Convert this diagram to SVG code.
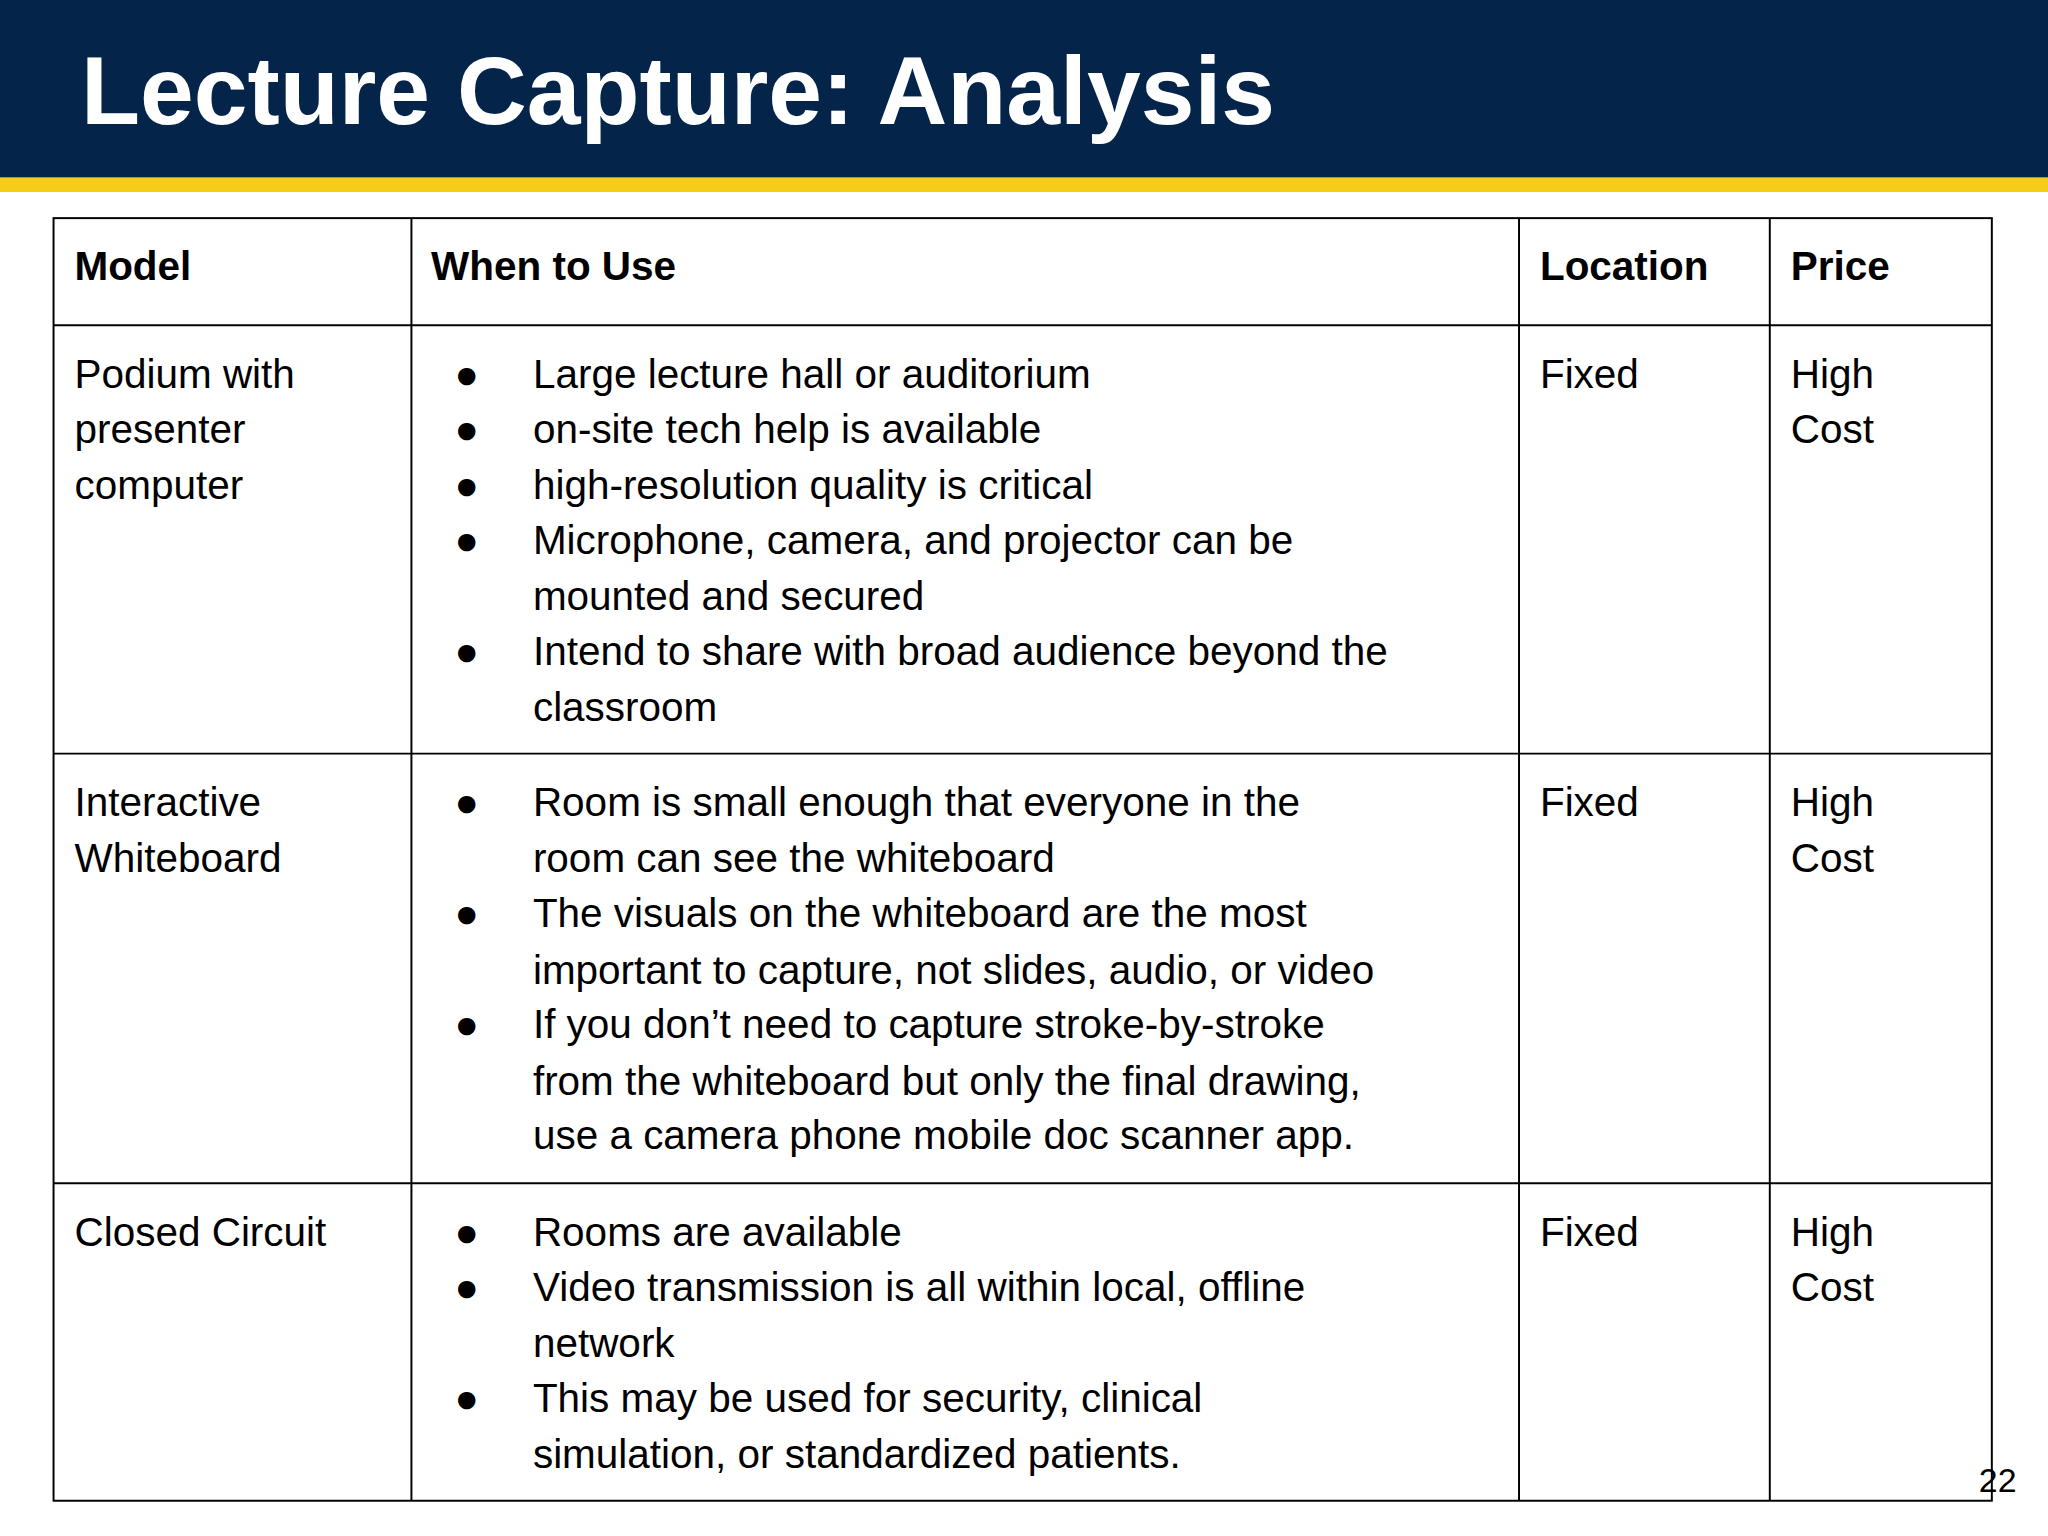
<svg xmlns="http://www.w3.org/2000/svg" width="2048" height="1536" viewBox="0 0 2048 1536">
<style>
.t{font-family:"Liberation Sans",Arial,sans-serif;font-size:31px;fill:#000}
.b{font-weight:bold}
.g{stroke:#000;stroke-width:1.5;fill:none}
</style>
<rect width="2048" height="1536" fill="#fff"/>
<g transform="scale(1.30612)">
<g id="header">
<rect x="0" y="0" width="1568" height="136" fill="#04244a"/>
<rect x="0" y="136" width="1568" height="11" fill="#f6cd16"/>
<text x="62" y="95" style="font-family:'Liberation Sans',Arial,sans-serif;font-size:74px;font-weight:bold;fill:#fff">Lecture Capture: Analysis</text>
</g>
<g id="grid" class="g">
<rect x="41" y="167" width="1484" height="982"/>
<line x1="315" y1="167" x2="315" y2="1149"/>
<line x1="1163" y1="167" x2="1163" y2="1149"/>
<line x1="1355" y1="167" x2="1355" y2="1149"/>
<line x1="41" y1="249" x2="1525" y2="249"/>
<line x1="41" y1="577" x2="1525" y2="577"/>
<line x1="41" y1="906" x2="1525" y2="906"/>
</g>
<g id="head" class="t b">
<text x="57" y="214">Model</text><text x="330" y="214">When to Use</text><text x="1179" y="214">Location</text><text x="1371" y="214">Price</text>
</g>
<g id="row1" class="t">
<text x="57" y="297">Podium with</text><text x="57" y="339">presenter</text><text x="57" y="382">computer</text>
<text x="348" y="297">●</text><text x="408" y="297">Large lecture hall or auditorium</text>
<text x="348" y="339">●</text><text x="408" y="339">on-site tech help is available</text>
<text x="348" y="382">●</text><text x="408" y="382">high-resolution quality is critical</text>
<text x="348" y="424">●</text><text x="408" y="424">Microphone, camera, and projector can be</text>
<text x="408" y="467">mounted and secured</text>
<text x="348" y="509">●</text><text x="408" y="509">Intend to share with broad audience beyond the</text>
<text x="408" y="552">classroom</text>
<text x="1179" y="297">Fixed</text><text x="1371" y="297">High</text><text x="1371" y="339">Cost</text>
</g>
<g id="row2" class="t">
<text x="57" y="625">Interactive</text><text x="57" y="668">Whiteboard</text>
<text x="348" y="625">●</text><text x="408" y="625">Room is small enough that everyone in the</text>
<text x="408" y="668">room can see the whiteboard</text>
<text x="348" y="710">●</text><text x="408" y="710">The visuals on the whiteboard are the most</text>
<text x="408" y="753">important to capture, not slides, audio, or video</text>
<text x="348" y="795">●</text><text x="408" y="795">If you don’t need to capture stroke-by-stroke</text>
<text x="408" y="838">from the whiteboard but only the final drawing,</text>
<text x="408" y="880">use a camera phone mobile doc scanner app.</text>
<text x="1179" y="625">Fixed</text><text x="1371" y="625">High</text><text x="1371" y="668">Cost</text>
</g>
<g id="row3" class="t">
<text x="57" y="954">Closed Circuit</text>
<text x="348" y="954">●</text><text x="408" y="954">Rooms are available</text>
<text x="348" y="996">●</text><text x="408" y="996">Video transmission is all within local, offline</text>
<text x="408" y="1039">network</text>
<text x="348" y="1081">●</text><text x="408" y="1081">This may be used for security, clinical</text>
<text x="408" y="1124">simulation, or standardized patients.</text>
<text x="1179" y="954">Fixed</text><text x="1371" y="954">High</text><text x="1371" y="996">Cost</text>
</g>
<text x="1515" y="1142" style="font-family:'Liberation Sans',Arial,sans-serif;font-size:26px">22</text>
</g>
</svg>
